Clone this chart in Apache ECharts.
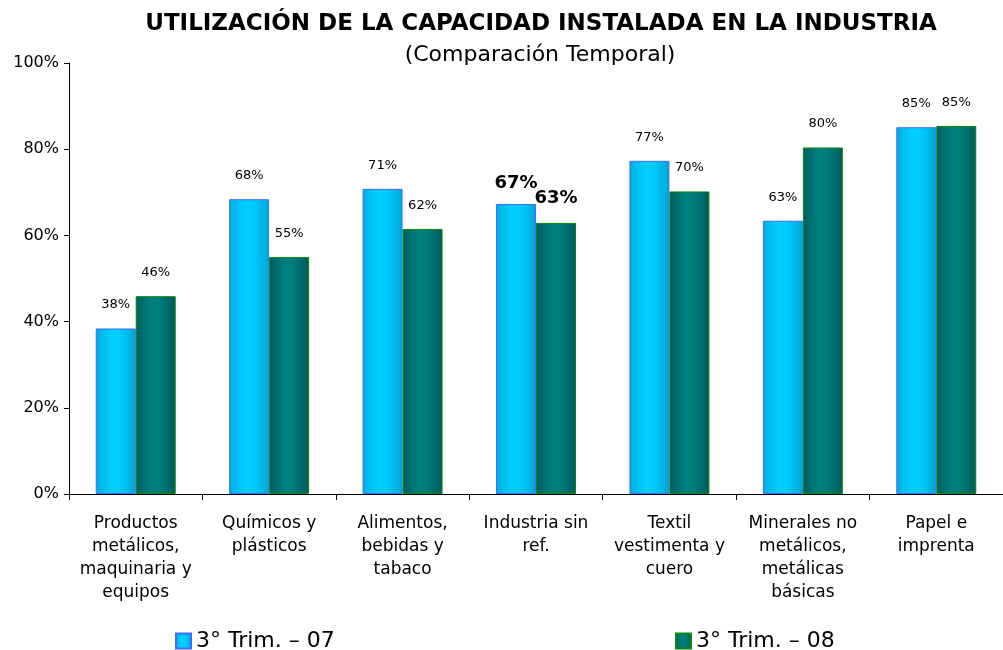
<!DOCTYPE html>
<html><head><meta charset="utf-8">
<script src="https://cdn.jsdelivr.net/npm/echarts@6/dist/echarts.min.js"></script>
<style>html,body{margin:0;padding:0;background:#fff}#c{width:1003px;height:650px}</style>
</head><body><div id="c"></div>
<script>
var categories = ["Productos\nmetálicos,\nmaquinaria y\nequipos", "Químicos y\nplásticos", "Alimentos,\nbebidas y\ntabaco", "Industria sin\nref.", "Textil\nvestimenta y\ncuero", "Minerales no\nmetálicos,\nmetálicas\nbásicas", "Papel e\nimprenta"];
var trim07 = [38.4, 68.4, 70.8, 67.3, 77.3, 63.4, 85.1];
var trim08 = [45.9, 55.0, 61.5, 62.9, 70.2, 80.4, 85.4];
var seriesNames = ["3° Trim. – 07", "3° Trim. – 08"];
var yTicks = [0, 20, 40, 60, 80, 100];
var highlightIndex = 3;

var ff = "'DejaVu Sans', sans-serif";
function mk(vals, dist) {
  return vals.map(function (v, i) {
    var d = { value: v };
    if (i === highlightIndex) {
      d.label = { fontSize: 18, fontWeight: 'bold', color: '#000', distance: dist };
    }
    return d;
  });
}
var blueGrad = new echarts.graphic.LinearGradient(0, 0, 1, 0, [
  { offset: 0, color: '#00AEE0' }, { offset: 0.4, color: '#00D0FF' }, { offset: 0.6, color: '#00CCFF' }, { offset: 1, color: '#00A6D6' }]);
var greenGrad = new echarts.graphic.LinearGradient(0, 0, 1, 0, [
  { offset: 0, color: '#005E5E' }, { offset: 0.4, color: '#008080' }, { offset: 0.6, color: '#007C7C' }, { offset: 1, color: '#005A5A' }]);

var chart = echarts.init(document.getElementById('c'));
chart.setOption({
  animation: false,
  title: [
    { text: 'UTILIZACIÓN DE LA CAPACIDAD INSTALADA EN LA INDUSTRIA', left: 536, textAlign: 'center', top: 8,
      textStyle: { fontFamily: ff, fontSize: 23, fontWeight: 'bold', color: '#000' } },
    { text: '(Comparación Temporal)', left: 535, textAlign: 'center', top: 39,
      textStyle: { fontFamily: ff, fontSize: 22, fontWeight: 'normal', color: '#000' } }
  ],
  legend: [
    { data: [seriesNames[0]], left: 170, top: 625, itemWidth: 15, itemHeight: 15, itemGap: 5,
      icon: 'rect', textStyle: { fontFamily: ff, fontSize: 22, color: '#000' } },
    { data: [seriesNames[1]], left: 670, top: 625, itemWidth: 15, itemHeight: 15, itemGap: 5,
      icon: 'rect', textStyle: { fontFamily: ff, fontSize: 22, color: '#000' } }
  ],
  grid: { left: 69, right: 0, top: 63, bottom: 156, containLabel: false },
  xAxis: {
    type: 'category', data: categories,
    axisLine: { lineStyle: { color: '#000', width: 1 } },
    axisTick: { show: true, length: 6, lineStyle: { color: '#000' } },
    axisLabel: { fontFamily: ff, fontSize: 17, color: '#000', lineHeight: 23, margin: 18, interval: 0 }
  },
  yAxis: {
    type: 'value', min: yTicks[0], max: yTicks[yTicks.length - 1], interval: 20,
    axisLine: { show: true, lineStyle: { color: '#000' } },
    axisTick: { show: true, length: 5, lineStyle: { color: '#000' } },
    splitLine: { show: false },
    axisLabel: { fontFamily: ff, fontSize: 16, color: '#000', margin: 10, formatter: '{value}%' }
  },
  series: [
    { name: seriesNames[0], type: 'bar', data: mk(trim07, 12), barWidth: 40, barGap: '0%',
      itemStyle: { color: blueGrad, borderColor: '#3F6CFF', borderWidth: 1 },
      label: { show: true, position: 'top', distance: 17, fontFamily: ff, fontSize: 13, color: '#000',
        formatter: function (p) { return Math.round(p.value) + '%'; } } },
    { name: seriesNames[1], type: 'bar', data: mk(trim08, 16), barWidth: 40,
      itemStyle: { color: greenGrad, borderColor: '#0A8A0A', borderWidth: 1 },
      label: { show: true, position: 'top', distance: 17, fontFamily: ff, fontSize: 13, color: '#000',
        formatter: function (p) { return Math.round(p.value) + '%'; } } }
  ]
});
</script></body></html>
